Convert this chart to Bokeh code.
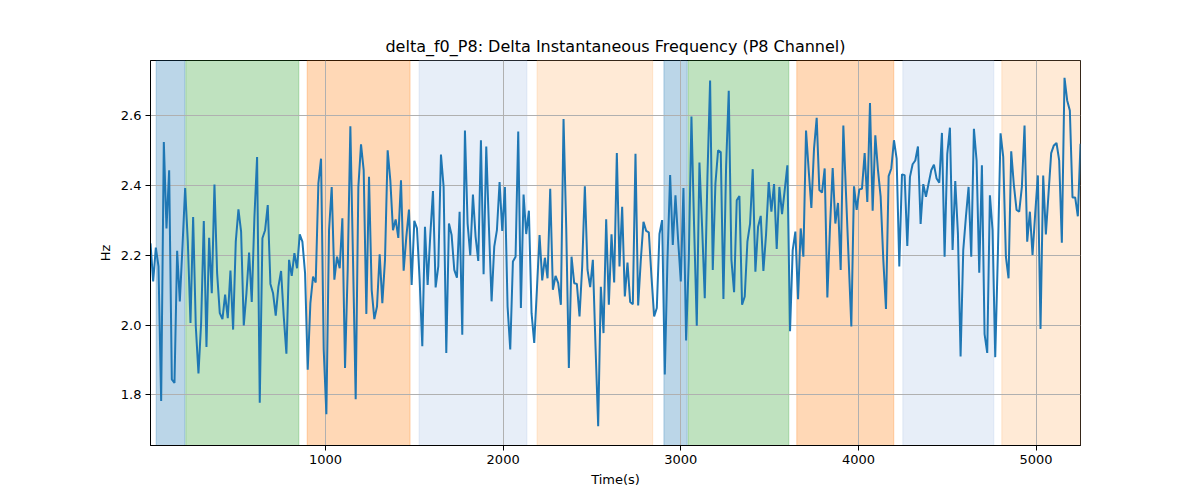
from bokeh.plotting import figure
from bokeh.models import BoxAnnotation, Range1d, FixedTicker, PrintfTickFormatter
from bokeh.embed import file_html
from bokeh.resources import INLINE

TITLE = "delta_f0_P8: Delta Instantaneous Frequency (P8 Channel)"

# delta f0 of channel P8, one sample every 15 s
delta_f0 = [
    2.234, 2.125, 2.222, 2.168, 1.782, 2.525, 2.277, 2.444, 1.844, 1.834,
    2.213, 2.068, 2.225, 2.393, 2.240, 2.006, 2.310, 1.996, 1.861, 2.006,
    2.298, 1.937, 2.250, 2.091, 2.403, 2.149, 2.034, 2.017, 2.087, 2.020,
    2.156, 1.987, 2.239, 2.332, 2.268, 1.999, 2.091, 2.208, 2.066, 2.310,
    2.482, 1.777, 2.249, 2.272, 2.344, 2.118, 2.091, 2.027, 2.110, 2.155,
    2.025, 1.918, 2.187, 2.141, 2.206, 2.163, 2.260, 2.239, 2.149, 1.872,
    2.063, 2.139, 2.122, 2.406, 2.477, 1.930, 1.744, 2.272, 2.396, 2.130,
    2.196, 2.163, 2.306, 1.877, 2.158, 2.570, 2.187, 1.787, 2.396, 2.518,
    2.444, 2.032, 2.425, 2.101, 2.017, 2.053, 2.203, 2.063, 2.187, 2.501,
    2.415, 2.272, 2.303, 2.250, 2.415, 2.156, 2.253, 2.331, 2.115, 2.299,
    2.277, 2.130, 1.939, 2.282, 2.115, 2.258, 2.384, 2.108, 2.168, 2.489,
    2.396, 1.920, 2.291, 2.258, 2.158, 2.136, 2.325,
    1.972, 2.558, 2.291, 2.200, 2.374, 2.253, 2.184, 2.530, 2.146, 2.512,
    2.282, 2.068, 2.225, 2.272, 2.410, 2.270, 2.396, 2.053, 1.930, 2.182,
    2.196, 2.555, 2.049, 2.374, 2.261, 2.328, 2.034, 1.949, 2.101, 2.258,
    2.128, 2.193, 2.134, 2.391, 2.101, 2.141, 2.120, 2.058, 2.591, 2.282,
    1.877, 2.196, 2.120, 2.118, 2.025, 2.168, 2.398, 2.158, 2.109, 2.187,
    1.939, 1.710, 2.110, 1.977, 2.303, 2.058, 2.260, 2.122,
    2.493, 2.168, 2.339, 2.082, 2.179, 2.066, 2.060, 2.491, 2.056, 2.187,
    2.296, 2.270, 2.266, 2.139, 2.025, 2.049, 2.261, 2.301, 1.858, 2.187,
    2.430, 2.230, 2.372, 2.244, 2.125, 2.393, 1.956, 2.187, 2.598, 2.282,
    1.998, 2.466, 2.282, 2.077, 2.425, 2.701, 2.158, 2.406, 2.501, 2.496,
    2.075, 2.453, 2.672, 2.187, 2.094, 2.358, 2.370, 2.058, 2.082, 2.239,
    2.291, 2.447, 2.153, 2.282, 2.313, 2.155, 2.260, 2.410,
    2.325, 2.404, 2.218, 2.396, 2.318, 2.387, 2.458, 1.982, 2.215, 2.268,
    2.074, 2.277, 2.196, 2.558, 2.444, 2.336, 2.506, 2.594, 2.387, 2.380,
    2.449, 2.079, 2.282, 2.450, 2.291, 2.350, 2.158, 2.572, 2.377, 2.187,
    1.996, 2.398, 2.330, 2.389, 2.391, 2.493, 2.353, 2.637, 2.328, 2.544,
    2.444, 2.368, 2.187, 2.046, 2.427, 2.449, 2.530, 2.477, 2.168, 2.432,
    2.430, 2.227, 2.425, 2.461, 2.472, 2.512, 2.290, 2.404,
    2.368, 2.406, 2.444, 2.460, 2.420, 2.408, 2.551, 2.196, 2.490, 2.566,
    2.215, 2.413, 2.263, 1.910, 2.215, 2.310, 2.396, 2.196, 2.563, 2.472,
    2.150, 2.458, 1.974, 1.920, 2.372, 2.272, 1.908, 2.206, 2.550, 2.482,
    2.196, 2.134, 2.498, 2.401, 2.330, 2.325, 2.396, 2.572, 2.239, 2.325,
    2.201, 2.320, 2.429, 1.989, 2.429, 2.260, 2.377, 2.493, 2.515, 2.522,
    2.472, 2.236, 2.709, 2.644, 2.615, 2.366, 2.366, 2.312, 2.520,
]
time_s = [15 * (i + 1) for i in range(len(delta_f0))]

# shaded segments
seg_start = [47, 214, 897, 1527, 2191, 2905, 3042, 3653, 4250, 4807]
seg_end = [209, 850, 1476, 2134, 2842, 3036, 3608, 4199, 4762, 5250]
seg_color = ["#1f77b4", "#2ca02c", "#ff7f0e", "#aec7e8", "#ffbb78",
             "#1f77b4", "#2ca02c", "#ff7f0e", "#aec7e8", "#ffbb78"]

x_ticks = [1000, 2000, 3000, 4000, 5000]
y_ticks = [1.8, 2.0, 2.2, 2.4, 2.6]

FONT = "DejaVu Sans"


def make_plot():
    # the page template puts the figure at 0,0, so use the full window
    p = figure(width=1200, height=500,
               x_range=Range1d(15, 5250),
               y_range=Range1d(1.6546, 2.7586),
               title=TITLE,
               output_backend="svg",
               toolbar_location=None)
    p.min_border_left = 150
    p.min_border_right = 120
    p.min_border_top = 60
    p.min_border_bottom = 55

    p.title.align = "center"
    p.title.text_font = FONT
    p.title.text_font_size = "16px"
    p.title.text_font_style = "normal"
    p.title.text_color = "black"

    p.outline_line_color = "black"
    p.outline_line_width = 1
    p.background_fill_color = "white"
    p.border_fill_color = "white"

    p.xaxis.ticker = FixedTicker(ticks=x_ticks)
    p.yaxis.ticker = FixedTicker(ticks=y_ticks)
    p.yaxis.formatter = PrintfTickFormatter(format="%.1f")
    p.xaxis.axis_label = "Time(s)"
    p.yaxis.axis_label = "Hz"
    for ax in p.xaxis + p.yaxis:
        ax.axis_line_color = "black"
        ax.major_tick_line_color = "black"
        ax.major_tick_out = 5
        ax.major_tick_in = 0
        ax.minor_tick_line_color = None
        ax.major_label_text_font = FONT
        ax.major_label_text_font_size = "13px"
        ax.major_label_text_color = "black"
        ax.major_label_standoff = 4
        ax.axis_label_text_font = FONT
        ax.axis_label_text_font_size = "13px"
        ax.axis_label_text_font_style = "normal"
        ax.axis_label_text_color = "black"
        ax.axis_label_standoff = 5

    p.grid.grid_line_color = "#b0b0b0"
    p.grid.grid_line_width = 1

    # spans sit under the grid, like axvspan in matplotlib
    for s, e, c in zip(seg_start, seg_end, seg_color):
        p.add_layout(BoxAnnotation(left=s, right=e,
                                   fill_color=c, fill_alpha=0.3,
                                   line_color=c, line_alpha=0.3,
                                   line_width=1, level="image"))

    p.line(time_s, delta_f0, line_color="#1f77b4", line_width=2)
    return p


p = make_plot()
open("out.html", "w").write(file_html(p, INLINE))
